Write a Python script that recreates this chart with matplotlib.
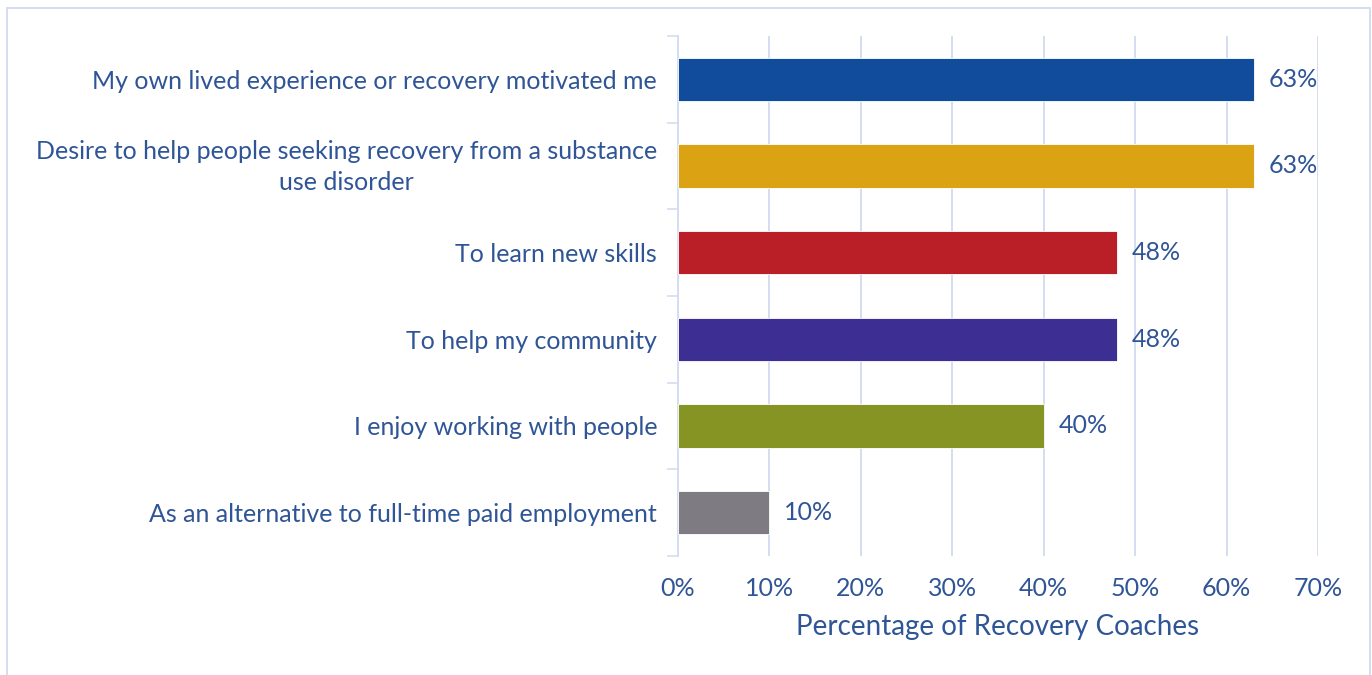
import matplotlib.pyplot as plt
from matplotlib.patches import Rectangle
from matplotlib.ticker import FixedLocator, PercentFormatter
from matplotlib.transforms import ScaledTranslation

categories = [
    'My own lived experience or recovery motivated me',
    'Desire to help people seeking recovery from a substance\nuse disorder',
    'To learn new skills',
    'To help my community',
    'I enjoy working with people',
    'As an alternative to full-time paid employment',
]
shares = [63, 63, 48, 48, 40, 10]
bar_colors = ['#114B9B', '#DBA314', '#BA1F27', '#3D2E94', '#869424', '#7E7B82']
x_ticks = [0, 10, 20, 30, 40, 50, 60, 70]

text_color = '#2F5597'
line_color = '#D3DEF0'

plt.rcParams['font.family'] = ['Lato', 'DejaVu Sans']

fig = plt.figure(figsize=(13.72, 6.75), dpi=100)
ax = fig.add_axes([0.4942, 0.1763, 0.4665, 0.7704])

pos = list(range(len(categories)))
ax.barh(pos, shares, height=0.5, color=bar_colors, edgecolor='white', linewidth=0.6, zorder=3)

for p, v in zip(pos, shares):
    ax.text(v + 1.6, p, f'{v}%', va='center', ha='left', fontsize=18, color=text_color)

ax.set_xlim(0, 70)
ax.set_ylim(len(categories) - 0.5, -0.5)

ax.set_xticks(x_ticks)
ax.xaxis.set_major_formatter(PercentFormatter(decimals=0))
ax.set_yticks(pos)
ax.set_yticklabels(categories, ha='right', multialignment='center', linespacing=1.4)
ax.yaxis.set_minor_locator(FixedLocator([i - 0.5 for i in range(len(categories) + 1)]))

ax.tick_params(axis='x', length=0, pad=15, labelsize=18, labelcolor=text_color)
ax.tick_params(axis='y', which='major', length=0, pad=15, labelsize=18, labelcolor=text_color)
ax.tick_params(axis='y', which='minor', length=8, width=1.2, color=line_color)

# lift the wrapped label a little so both lines sit around the bar
wrapped = ax.get_yticklabels()[1]
wrapped.set_transform(wrapped.get_transform() + ScaledTranslation(0, 5 / 100, fig.dpi_scale_trans))

ax.grid(axis='x', color=line_color, linewidth=1.4, zorder=0)
for side in ['top', 'right', 'bottom']:
    ax.spines[side].set_visible(False)
ax.spines['left'].set_color(line_color)
ax.spines['left'].set_linewidth(1.4)

ax.set_xlabel('Percentage of Recovery Coaches', fontsize=20, color=text_color, labelpad=10)

# light frame around the whole chart
fig.patches.append(Rectangle((7 / 1372, -0.05), 1363 / 1372, 1.05 - 8 / 675,
                             transform=fig.transFigure, fill=False,
                             edgecolor=line_color, linewidth=1.4))

fig.savefig('out.png', dpi=100, facecolor='white')
